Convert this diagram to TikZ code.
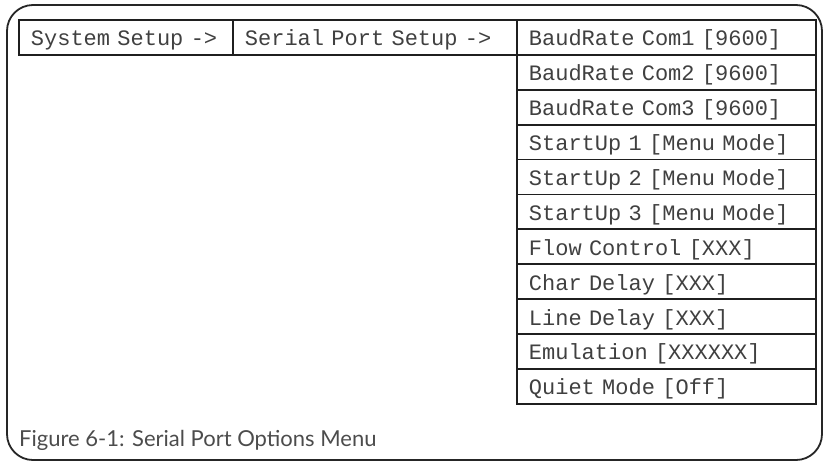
\documentclass[tikz,border=0pt]{standalone}
\usepackage{fontspec}
\setmonofont{Liberation Mono}
\setsansfont{Lato}
\begin{document}
\begin{tikzpicture}[x=1pt,y=-1pt,
  cell/.style={draw=black!88, line width=1.8pt, rectangle, anchor=north west,
    inner xsep=12pt, inner ysep=0pt, minimum height=34.9pt,
    text height=17pt, text depth=0pt, align=left, text=black!75,
    font={\fontsize{22}{22}\ttfamily}},
  frame/.style={draw=black!85, line width=1.8pt, rounded corners=26pt}]
\useasboundingbox (0,0) rectangle (824,461);
\draw[frame] (7,5) rectangle (822,460);
\node[cell, text width=190pt] (sys) at (18,19) {\mbox{System Setup ->}};
\node[cell, text width=260pt] (ser) at (232,19) {\mbox{Serial Port Setup ->}};
\foreach \i/\t in {0/{BaudRate Com1 [9600]},1/{BaudRate Com2 [9600]},2/{BaudRate Com3 [9600]},
  3/{StartUp 1 [Menu Mode]},4/{StartUp 2 [Menu Mode]},5/{StartUp 3 [Menu Mode]},
  6/{Flow Control [XXX]},7/{Char Delay [XXX]},8/{Line Delay [XXX]},
  9/{Emulation [XXXXXX]},10/{Quiet Mode [Off]}}
  \node[cell, text width=275pt] (r\i) at (516,{19+34.9*\i}) {\mbox{\t}};
\node[anchor=base west, inner sep=0pt, text=black!70,
  font=\fontsize{22}{22}\sffamily] (cap) at (19,446) {Figure 6-1: Serial Port Options Menu};
\end{tikzpicture}
\end{document}
